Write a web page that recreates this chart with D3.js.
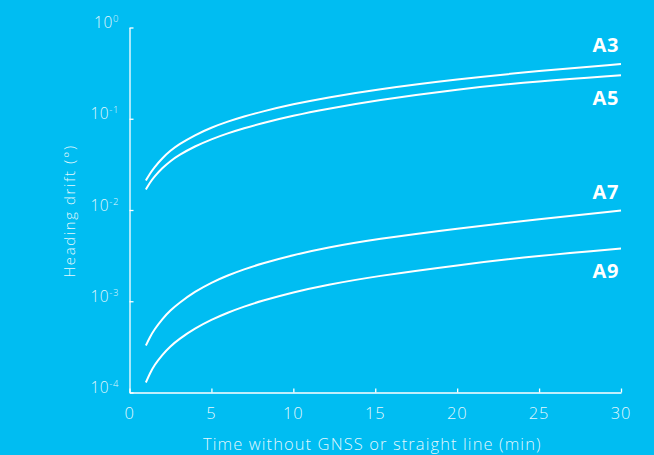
<!DOCTYPE html>
<html>
<head>
<meta charset="utf-8">
<script src="https://cdn.jsdelivr.net/npm/d3@7"></script>
<style>
  html, body { margin: 0; padding: 0; background: #00bdf2; }
  svg { display: block; }
  text { font-family: "Open Sans", "Lato", sans-serif; }
</style>
</head>
<body>
<svg id="chart" width="654" height="455"></svg>
<script>
// ---- data ----
const times = [1, 1.25, 1.5, 2, 2.5, 3, 4, 5, 6, 7, 8, 10, 12, 15, 20, 25, 30];
const seriesNames = ["A3", "A5", "A7", "A9"];
const a3 = [0.021048, 0.025119, 0.029149, 0.037048, 0.044767, 0.052223, 0.066513, 0.080196, 0.093297, 0.10611, 0.11887, 0.14474, 0.17009, 0.20865, 0.27197, 0.33448, 0.39811];
const a5 = [0.016775, 0.019965, 0.022993, 0.028856, 0.034434, 0.039861, 0.050028, 0.059829, 0.069428, 0.07899, 0.088484, 0.10827, 0.12757, 0.15806, 0.2113, 0.2586, 0.29934];
const a7 = [0.0003274, 0.00040571, 0.00048536, 0.00064043, 0.0007959, 0.00094957, 0.001279, 0.0016048, 0.0019248, 0.0022454, 0.0025665, 0.0032126, 0.0038527, 0.0047863, 0.0062836, 0.0079482, 0.0098497];
const a9 = [0.00012871, 0.00016272, 0.00019715, 0.00026023, 0.00032167, 0.00038285, 0.0005052, 0.00062757, 0.00075105, 0.00087596, 0.0010013, 0.0012565, 0.0015071, 0.0018768, 0.0024898, 0.0031643, 0.0037853];
const labelSide = ["above", "below", "above", "below"];
const xTicks = [0, 5, 10, 15, 20, 25, 30];
const yTickExponents = [0, -1, -2, -3, -4];
const xTitle = "Time without GNSS or straight line (min)";
const yTitle = "Heading drift (°)";

const seriesValues = [a3, a5, a7, a9];

(function draw() {
  const svg = d3.select("#chart");
  const W = 654, H = 455;
  const mLeft = 129.5, mRight = 621, mTop = 27.5, mBottom = 392.5;
  const white = "#ffffff";
  const textCol = "rgba(255,255,255,0.9)";

  svg.append("rect").attr("width", W).attr("height", H).attr("fill", "#00bdf2");

  const x = d3.scaleLinear().domain([0, 30]).range([mLeft, mRight]);
  const y = d3.scaleLog().domain([1e-4, 1]).range([mBottom, mTop]);

  // y axis
  const yAxis = d3.axisLeft(y)
    .tickValues(yTickExponents.map(e => Math.pow(10, e)))
    .tickSizeInner(-4).tickSizeOuter(0)
    .tickFormat("");
  const gy = svg.append("g").attr("transform", `translate(${mLeft},0)`).call(yAxis);
  gy.select(".domain").attr("stroke", white).attr("stroke-width", 1.3);
  gy.selectAll(".tick line").attr("stroke", white).attr("stroke-width", 1.3);

  yTickExponents.forEach(e => {
    const t = svg.append("text")
      .attr("x", 119)
      .attr("y", y(Math.pow(10, e)) + 0.5)
      .attr("text-anchor", "end")
      .attr("fill", textCol)
      .attr("font-size", 15.5)
      .attr("font-weight", 300)
      .attr("letter-spacing", 0.6);
    t.append("tspan").text("10");
    t.append("tspan").attr("dy", -6).attr("font-size", 9.5).text(e === 0 ? "0" : "-" + Math.abs(e));
  });

  // x axis
  const xAxis = d3.axisBottom(x)
    .tickValues(xTicks)
    .tickSizeInner(-4).tickSizeOuter(0)
    .tickFormat("");
  const gx = svg.append("g").attr("transform", `translate(0,${mBottom})`).call(xAxis);
  gx.select(".domain").attr("stroke", white).attr("stroke-width", 1.3);
  gx.selectAll(".tick line").attr("stroke", white).attr("stroke-width", 1.3);

  svg.append("g").selectAll("text").data(xTicks).join("text")
    .attr("x", d => x(d))
    .attr("y", 418.5)
    .attr("text-anchor", "middle")
    .attr("fill", textCol)
    .attr("font-size", 16.5)
    .attr("font-weight", 300)
    .attr("letter-spacing", 0.8)
    .text(d => d);

  svg.append("text")
    .attr("x", (mLeft + mRight) / 2 - 3)
    .attr("y", 450)
    .attr("text-anchor", "middle")
    .attr("fill", textCol)
    .attr("font-size", 16.5)
    .attr("font-weight", 300)
    .attr("letter-spacing", 1.1)
    .text(xTitle);

  svg.append("text")
    .attr("transform", `translate(75,211) rotate(-90)`)
    .attr("text-anchor", "middle")
    .attr("fill", textCol)
    .attr("font-size", 15)
    .attr("font-weight", 300)
    .attr("letter-spacing", 1.6)
    .text(yTitle);

  const line = d3.line()
    .x((d, i) => x(times[i]))
    .y(d => y(d))
    .curve(d3.curveBasis);

  seriesValues.forEach((vals, k) => {
    svg.append("path")
      .attr("d", line(vals))
      .attr("fill", "none")
      .attr("stroke", white)
      .attr("stroke-width", 2);
    const endY = y(vals[vals.length - 1]);
    svg.append("text")
      .attr("x", 619)
      .attr("y", labelSide[k] === "above" ? endY - 12 : endY + 30)
      .attr("text-anchor", "end")
      .attr("fill", white)
      .attr("font-size", 20)
      .attr("font-weight", 700)
      .attr("letter-spacing", 0.6)
      .text(seriesNames[k]);
  });
})();
</script>
</body>
</html>
